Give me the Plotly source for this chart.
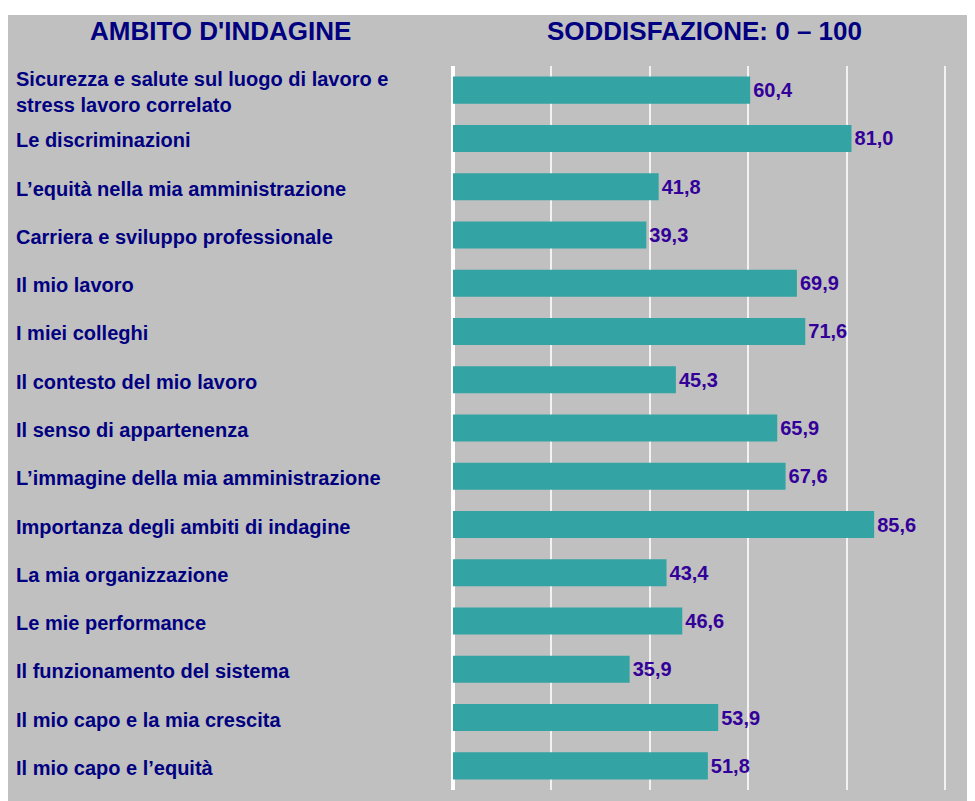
import plotly.graph_objects as go

categories = [
    "Sicurezza e salute sul luogo di lavoro e<br>stress lavoro correlato",
    "Le discriminazioni",
    "L\u2019equità nella mia amministrazione",
    "Carriera e sviluppo professionale",
    "Il mio lavoro",
    "I miei colleghi",
    "Il contesto del mio lavoro",
    "Il senso di appartenenza",
    "L\u2019immagine della mia amministrazione",
    "Importanza degli ambiti di indagine",
    "La mia organizzazione",
    "Le mie performance",
    "Il funzionamento del sistema",
    "Il mio capo e la mia crescita",
    "Il mio capo e l\u2019equità",
]
values = [60.4, 81.0, 41.8, 39.3, 69.9, 71.6, 45.3, 65.9, 67.6, 85.6, 43.4, 46.6, 35.9, 53.9, 51.8]
value_labels = [f"{v:.1f}".replace(".", ",") for v in values]
x_ticks = [0, 20, 40, 60, 80, 100]
header_left = "AMBITO D'INDAGINE"
header_right = "SODDISFAZIONE: 0 \u2013 100"

FONT = "Liberation Sans, Arial, sans-serif"
NAVY = "#000080"
GRAY = "#c0c0c0"

OFF = 8                      # page body margin
W, H = 975 - OFF, 801 - OFF  # figure size
L, R, T, B = 453 - OFF, 0, 66 - OFF, (801 - OFF) - (790 - OFF)
pw, ph = W - L - R, H - T - B

def px_x(p):
    return (p - OFF - L) / pw

def px_y(p):
    return (H - B - (p - OFF)) / ph

ids = list(range(len(categories)))

fig = go.Figure(go.Bar(
    x=values, y=ids, orientation="h",
    marker=dict(color="#33a3a3", line=dict(width=0)),
    width=0.56,
    text=value_labels, textposition="outside", cliponaxis=False,
    textfont=dict(family=FONT, size=20, color="#330099", weight="bold"),
    hoverinfo="skip",
))

annotations = []
for i, c in enumerate(categories):
    annotations.append(dict(
        x=px_x(14), xref="paper", y=i, yref="y", text=c, showarrow=False,
        xanchor="left", yanchor="middle", align="left", yshift=-2,
        font=dict(family=FONT, size=20, color=NAVY, weight="bold"),
    ))
annotations.append(dict(
    x=px_x(220.5), xref="paper", y=px_y(31), yref="paper", text=header_left,
    showarrow=False, xanchor="center", yanchor="middle",
    font=dict(family=FONT, size=26, color=NAVY, weight="bold"),
))
annotations.append(dict(
    x=px_x(704), xref="paper", y=px_y(31), yref="paper", text=header_right,
    showarrow=False, xanchor="center", yanchor="middle",
    font=dict(family=FONT, size=26, color=NAVY, weight="bold"),
))

fig.update_layout(
    width=W, height=H, autosize=False,
    margin=dict(l=L, r=R, t=T, b=B, pad=0),
    paper_bgcolor="white", plot_bgcolor=GRAY,
    showlegend=False,
    shapes=[dict(type="rect", xref="paper", yref="paper",
                 x0=px_x(8), x1=1.02, y0=px_y(801 + 5), y1=px_y(15),
                 fillcolor=GRAY, line=dict(width=0), layer="below")],
    annotations=annotations,
    xaxis=dict(range=[0, pw / 4.92], tickvals=x_ticks, showticklabels=False,
               showgrid=True, gridcolor="#f2f2f2", gridwidth=1.5,
               zeroline=True, zerolinecolor="white", zerolinewidth=4,
               showline=False, fixedrange=True),
    yaxis=dict(range=[len(categories) - 0.5, -0.5], showticklabels=False,
               showgrid=False, zeroline=False, showline=False, fixedrange=True),
)

fig.write_html("out.html")
